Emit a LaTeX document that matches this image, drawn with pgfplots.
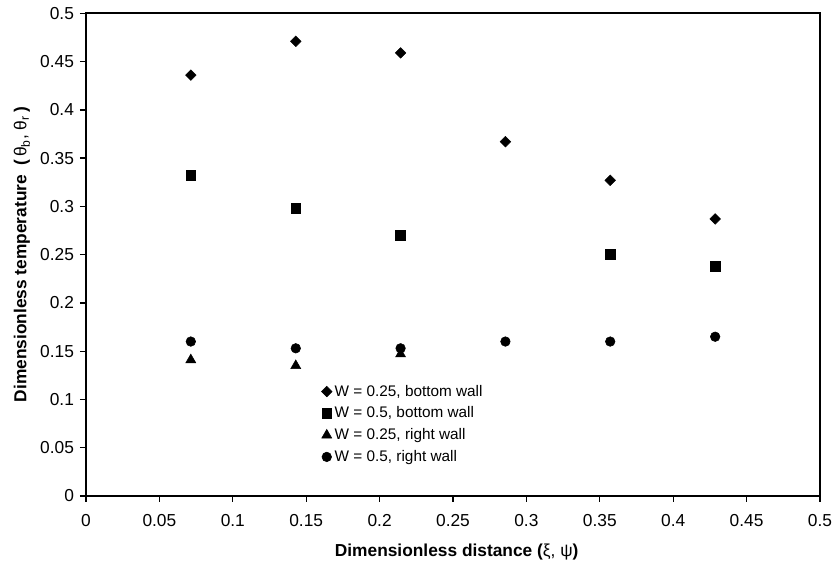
\documentclass[border=0pt]{standalone}
\usepackage{fontspec}
\setmainfont{Liberation Sans}
\usepackage{pgfplots}
\pgfplotsset{compat=1.18}

\begin{document}
\begin{tikzpicture}
\useasboundingbox (-64.5pt,-51pt) rectangle (560.25pt,372pt);
\begin{axis}[
  scale only axis, width=550.5pt, height=362pt,
  xmin=0, xmax=0.5, ymin=0, ymax=0.5,
  xtick={0,0.05,0.1,0.15,0.2,0.25,0.3,0.35,0.4,0.45,0.5},
  ytick={0,0.05,0.1,0.15,0.2,0.25,0.3,0.35,0.4,0.45,0.5},
  /pgf/number format/assume math mode=true,
  /pgf/number format/fixed, /pgf/number format/precision=2,
  tick label style={font=\fontsize{13}{15}\selectfont},
  xticklabel style={yshift=-6pt},
  yticklabel style={xshift=-1pt},
  tick align=outside, tick pos=left, major tick length=4.5pt,
  tick style={black, line width=1pt},
  axis line style={black, line width=1.5pt},
  xlabel={\bfseries Dimensionless distance (\textmd{ξ, ψ})},
  ylabel={\bfseries Dimensionless temperature\ \ (\,\textmd{θ\textsubscript{b}, θ\textsubscript{r}}\,)},
  label style={font=\fontsize{13}{15}\selectfont},
  xlabel style={at={(axis description cs:0.505,-0.1155)}, anchor=center},
  ylabel style={at={(axis description cs:-0.0872,0.5)}, anchor=center},
  legend style={at={(axis description cs:0.315,0.2415)}, anchor=north west,
    draw=none, fill=none, font=\fontsize{11.5}{13}\selectfont, row sep=2.5pt},
  legend cell align=left,
  legend image code/.code={\draw[#1] plot coordinates {(0cm,0cm)};},
]
\addplot[only marks, mark=square*, mark size=2.8pt, mark options={rotate=45, fill=black, draw=black}]
  coordinates {(0.0714,0.436) (0.1429,0.471) (0.2143,0.459) (0.2857,0.367) (0.3571,0.327) (0.4286,0.287)};
\addplot[only marks, mark=square*, mark size=3.7pt, mark options={fill=black, draw=black}]
  coordinates {(0.0714,0.332) (0.1429,0.298) (0.2143,0.270) (0.3571,0.250) (0.4286,0.238)};
\addplot[only marks, mark=triangle*, mark size=4.3pt, mark options={fill=black, draw=black}]
  coordinates {(0.0714,0.141) (0.1429,0.135) (0.2143,0.147)};
\addplot[only marks, mark=*, mark size=3.6pt, mark options={fill=black, draw=black}]
  coordinates {(0.0714,0.160) (0.1429,0.153) (0.2143,0.153) (0.2857,0.160) (0.3571,0.160) (0.4286,0.165)};
\legend{{W = 0.25, bottom wall}, {W = 0.5, bottom wall}, {W = 0.25, right wall}, {W = 0.5, right wall}}
\end{axis}
\end{tikzpicture}
\end{document}
